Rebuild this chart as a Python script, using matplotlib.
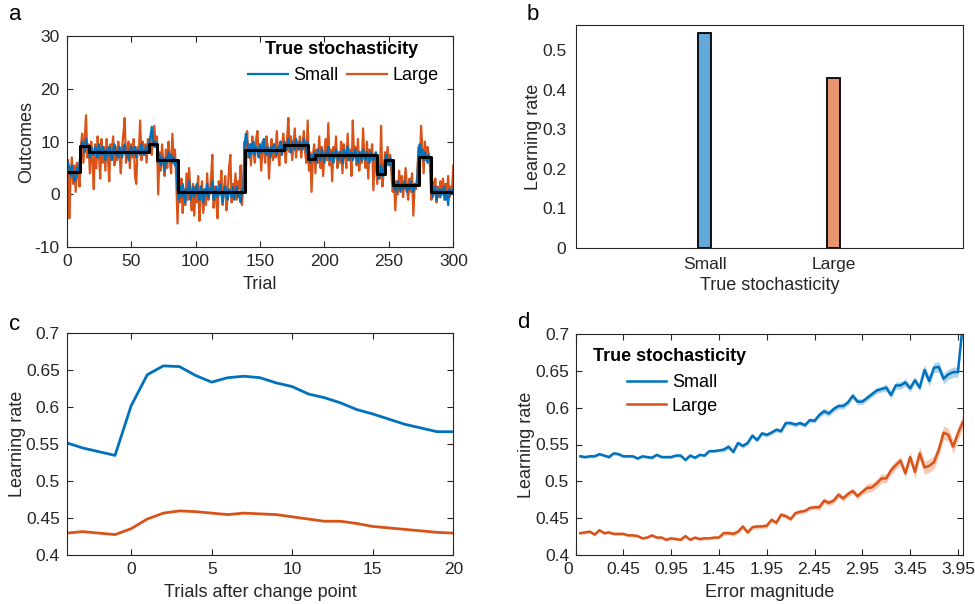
import numpy as np
import matplotlib
matplotlib.use("Agg")
import matplotlib.pyplot as plt
import matplotlib.transforms as mtransforms
from matplotlib.ticker import FuncFormatter

plt.rcParams['font.family'] = ['Liberation Sans', 'DejaVu Sans']
plt.rcParams['axes.unicode_minus'] = False

# colours (MATLAB defaults)
BLUE = '#0072BD'
ORANGE = '#D95319'
DARK = '#262626'

# ---- panel a: outcomes per trial ----
outcomes_small = [
    6.0, 5.0, 3.5, 5.5, 4.0, 2.5, 3.0, 5.0, 4.5, 6.0,
    8.5, 10.0, 9.5, 8.0, 10.5, 9.0, 8.5, 7.0, 9.0, 8.0,
    7.5, 9.0, 8.5, 7.0, 9.5, 8.0, 7.5, 9.0, 8.0, 6.5,
    8.5, 7.5, 9.0, 8.0, 6.5, 8.5, 9.5, 7.5, 8.0, 7.0,
    9.0, 8.0, 7.0, 8.5, 9.5, 7.5, 8.0, 6.5, 8.5, 9.0,
    7.5, 8.0, 9.0, 7.0, 8.5, 8.0, 7.5, 9.5, 8.0, 7.5,
    8.5, 9.0, 8.0, 10.0, 11.0, 12.8, 10.5, 9.0, 10.0, 9.5,
    6.0, 7.5, 5.5, 7.0, 6.5, 4.5, 7.0, 6.0, 8.0, 6.5,
    7.5, 6.0, 7.0, 5.5, 6.5, 1.0, -1.0, 1.5, -0.5, 2.0,
    0.0, -1.5, 1.0, 0.5, 2.5, -1.0, 0.0, 1.5, -0.5, 1.0,
    2.0, 0.0, -1.0, 1.5, 0.5, -1.5, 1.0, 0.0, 2.0, -0.5,
    1.0, 0.5, 2.5, -1.0, 0.0, 1.5, -0.5, 1.0, 2.0, 0.0,
    -1.5, 0.5, 1.5, 0.0, -1.0, 1.0, 0.5, -0.5, 1.5, -1.0,
    0.5, 1.5, -0.5, 0.0, -1.5, 1.0, 0.5, 9.0, 11.5, 10.0,
    8.5, 7.0, 9.5, 8.0, 10.0, 7.5, 9.0, 8.5, 7.0, 9.5,
    8.0, 9.0, 10.5, 8.0, 7.5, 9.0, 8.5, 7.0, 9.0, 8.0,
    9.5, 8.0, 7.5, 9.0, 8.5, 10.0, 7.5, 9.0, 10.0, 9.5,
    8.5, 10.5, 9.0, 8.0, 10.0, 9.5, 8.5, 10.5, 9.0, 8.5,
    10.0, 9.0, 8.5, 10.5, 9.5, 8.0, 10.0, 7.0, 6.0, 7.5,
    6.5, 8.0, 7.5, 6.0, 8.5, 7.0, 6.5, 8.5, 7.5, 6.0,
    8.0, 7.5, 9.0, 6.5, 7.5, 8.0, 6.0, 7.5, 8.5, 7.0,
    6.5, 8.0, 7.5, 6.0, 8.5, 7.0, 7.5, 9.0, 6.5, 7.5,
    8.0, 6.5, 7.5, 8.5, 7.0, 6.0, 8.0, 7.5, 6.5, 8.5,
    7.0, 6.5, 8.0, 7.5, 6.0, 8.0, 7.0, 6.5, 7.5, 8.0,
    4.5, 3.0, 4.0, 5.5, 3.5, 4.5, 6.5, 7.5, 6.0, 5.5,
    7.0, 6.0, 2.5, 1.0, 2.0, 0.5, 2.5, 1.5, 0.5, 2.0,
    1.0, 2.5, 1.5, 0.5, 2.0, 1.0, 2.5, 1.5, 0.5, 2.0,
    1.5, 2.5, 8.0, 9.5, 7.0, 8.5, 6.5, 8.0, 7.0, 6.0,
    7.5, 6.5, 1.0, -0.5, 0.5, 1.5, -1.0, 0.5, 1.0, -0.5,
    1.0, 0.0, 1.5, -1.0, 0.5, -2.0, 1.0, 0.0, 0.5, 1.0,
]
outcomes_large = [
    6.5, -4.5, 3.0, 7.0, 2.0, 5.5, 0.5, 6.0, 3.5, 1.5,
    9.0, 11.5, 6.0, 10.5, 15.0, 7.0, 9.5, 4.0, 10.0, 6.5,
    1.0, 9.5, 5.0, 11.0, 7.5, 3.0, 10.5, 6.0, 9.0, 4.5,
    10.5, 7.0, 2.5, 9.5, 8.0, 11.0, 5.5, 9.0, 6.5, 10.0,
    7.5, 4.0, 9.0, 11.5, 14.5, 6.0, 8.5, 10.0, 5.0, 9.5,
    7.0, 10.5, 3.5, 2.0, 9.0, 8.0, 14.0, 6.5, 10.0, 7.5,
    9.5, 6.0, 10.5, 8.0, 11.0, 7.5, 12.5, 13.0, 9.0, 11.0,
    0.0, 8.0, 4.5, 9.5, 6.0, 3.5, 8.5, 5.0, 10.0, 6.5,
    4.0, 11.5, 6.0, 8.5, 3.0, -5.5, 2.5, -1.5, 3.0, -3.5,
    1.0, -2.0, 4.0, -1.0, 5.0, 0.5, -3.0, 2.0, -4.0, 1.5,
    -1.5, 3.5, -5.0, 0.0, 2.5, -3.5, 1.0, -2.0, 4.0, -1.0,
    0.5, 3.0, 7.5, -2.5, 1.5, -1.0, -4.5, 2.5, 0.0, 4.5,
    -2.0, 1.0, 3.5, -3.0, 0.5, 5.0, 7.5, -1.5, 2.0, 0.0,
    4.0, -1.0, 2.5, 1.0, 5.5, -2.0, 1.5, 10.0, 4.5, 12.0,
    7.0, 9.5, 5.5, 11.0, 8.0, 6.0, 10.5, 12.0, 7.5, 9.0,
    4.5, 10.0, 8.5, 6.0, 11.0, 9.0, 3.0, 8.0, 10.5, 6.5,
    9.5, 7.0, 12.0, 8.0, 5.5, 10.0, 7.5, 11.5, 9.0, 6.0,
    10.5, 14.5, 8.0, 11.0, 6.5, 9.5, 12.5, 7.0, 10.0, 8.5,
    11.0, 7.0, 9.5, 12.0, 8.0, 6.0, 14.0, 4.5, 8.0, 0.5,
    7.0, 9.5, 4.0, 8.5, 6.0, 11.0, 5.0, 9.0, 3.5, 8.0,
    10.5, 6.5, 13.5, 5.5, 8.5, 2.5, 9.0, 7.0, 11.0, 5.0,
    8.0, 6.0, 10.0, 4.0, 9.5, 7.5, 5.0, 11.5, 6.5, 8.5,
    3.5, 14.0, 7.0, 9.0, 5.5, 10.5, 4.5, 8.0, 6.0, 12.5,
    7.0, 5.0, 10.0, 3.0, 8.5, 6.5, 9.5, 0.8, 7.5, 5.5,
    2.0, 5.5, 3.0, 13.0, 1.5, 4.5, 8.0, 5.5, 9.0, 6.0,
    7.5, 4.0, 0.5, 3.0, -3.0, 2.5, 0.0, 4.5, 1.0, 3.5,
    -0.5, 2.0, 5.0, 1.5, -1.0, 3.0, 0.5, 4.0, -4.0, 2.0,
    1.0, 3.5, 9.0, 5.0, 13.0, 8.5, 4.0, 10.0, 6.5, 9.0,
    7.5, 5.0, -1.0, 2.5, 0.0, 3.0, -1.5, 1.5, -0.5, 2.5,
    0.5, 3.0, -1.0, 2.0, 0.0, 3.5, -0.5, 1.5, 0.5, 5.5,
]
# true mean: change-point trials and the level after each
cp_trials = [0, 10, 17, 64, 70, 86, 138, 169, 187, 193, 241, 247, 253, 273, 283, 300]
cp_levels = [4.2, 9.2, 8.0, 9.6, 6.6, 0.4, 8.5, 9.3, 6.8, 7.4, 3.9, 6.5, 1.7, 7.1, 0.4]

# ---- panel b: mean learning rate ----
stoch_labels = ['Small', 'Large']
lr_mean = [0.544, 0.428]
bar_colors = ['#62A8D8', '#E8956F']

# ---- panel c: learning rate around change points ----
cp_rel_trials = list(range(-4, 21))
lr_cp_small = [0.552, 0.545, 0.540, 0.535, 0.602, 0.644, 0.656, 0.655, 0.643, 0.634,
               0.640, 0.642, 0.640, 0.633, 0.628, 0.618, 0.613, 0.606, 0.597, 0.591,
               0.584, 0.577, 0.572, 0.567, 0.567]
lr_cp_large = [0.430, 0.432, 0.430, 0.428, 0.436, 0.449, 0.457, 0.460, 0.459, 0.457,
               0.455, 0.457, 0.456, 0.455, 0.452, 0.449, 0.446, 0.446, 0.443, 0.439,
               0.437, 0.435, 0.433, 0.431, 0.430]

# ---- panel d: learning rate vs error magnitude ----
err_mag = np.round(np.arange(81) * 0.05, 2)
lr_err_small = [
    0.534, 0.533, 0.534, 0.534, 0.537, 0.535, 0.533, 0.538, 0.537, 0.534,
    0.534, 0.534, 0.531, 0.534, 0.533, 0.532, 0.536, 0.533, 0.533, 0.533,
    0.535, 0.535, 0.529, 0.535, 0.532, 0.536, 0.535, 0.541, 0.541, 0.542,
    0.543, 0.547, 0.540, 0.552, 0.548, 0.552, 0.562, 0.556, 0.565, 0.563,
    0.566, 0.570, 0.568, 0.579, 0.579, 0.577, 0.579, 0.576, 0.583, 0.582,
    0.590, 0.595, 0.592, 0.598, 0.602, 0.602, 0.607, 0.616, 0.608, 0.608,
    0.613, 0.618, 0.623, 0.625, 0.627, 0.617, 0.630, 0.630, 0.634, 0.626,
    0.637, 0.627, 0.651, 0.636, 0.654, 0.655, 0.639, 0.645, 0.648, 0.648,
    0.712,
]
lr_err_large = [
    0.430, 0.431, 0.432, 0.428, 0.434, 0.430, 0.431, 0.429, 0.429, 0.429,
    0.427, 0.427, 0.426, 0.423, 0.424, 0.427, 0.424, 0.424, 0.421, 0.423,
    0.422, 0.421, 0.426, 0.421, 0.424, 0.422, 0.423, 0.423, 0.424, 0.424,
    0.430, 0.430, 0.429, 0.432, 0.439, 0.431, 0.438, 0.439, 0.439, 0.440,
    0.448, 0.444, 0.455, 0.453, 0.449, 0.457, 0.459, 0.460, 0.464, 0.465,
    0.465, 0.474, 0.471, 0.474, 0.482, 0.477, 0.483, 0.487, 0.480, 0.486,
    0.491, 0.492, 0.497, 0.504, 0.504, 0.515, 0.522, 0.528, 0.511, 0.533,
    0.513, 0.538, 0.519, 0.521, 0.526, 0.543, 0.566, 0.563, 0.547, 0.565,
    0.580,
]
sem_err_small = [
    0.002, 0.002, 0.002, 0.002, 0.002, 0.002, 0.002, 0.002, 0.002, 0.002,
    0.002, 0.002, 0.002, 0.002, 0.002, 0.002, 0.002, 0.002, 0.002, 0.002,
    0.002, 0.002, 0.002, 0.002, 0.002, 0.002, 0.002, 0.002, 0.002, 0.002,
    0.003, 0.003, 0.003, 0.003, 0.003, 0.003, 0.003, 0.003, 0.003, 0.003,
    0.003, 0.003, 0.003, 0.003, 0.003, 0.003, 0.003, 0.003, 0.003, 0.003,
    0.004, 0.004, 0.004, 0.004, 0.004, 0.004, 0.004, 0.004, 0.004, 0.004,
    0.004, 0.004, 0.004, 0.004, 0.005, 0.005, 0.005, 0.005, 0.005, 0.005,
    0.005, 0.005, 0.007, 0.007, 0.007, 0.007, 0.007, 0.007, 0.007, 0.007,
    0.007,
]
sem_err_large = [
    0.002, 0.002, 0.002, 0.002, 0.002, 0.002, 0.002, 0.002, 0.002, 0.002,
    0.002, 0.002, 0.002, 0.002, 0.002, 0.002, 0.002, 0.002, 0.002, 0.002,
    0.002, 0.002, 0.002, 0.002, 0.002, 0.002, 0.002, 0.002, 0.002, 0.002,
    0.003, 0.003, 0.003, 0.003, 0.003, 0.003, 0.003, 0.003, 0.003, 0.003,
    0.003, 0.003, 0.003, 0.003, 0.003, 0.003, 0.003, 0.003, 0.003, 0.003,
    0.004, 0.004, 0.004, 0.004, 0.004, 0.004, 0.004, 0.004, 0.004, 0.004,
    0.006, 0.006, 0.006, 0.006, 0.006, 0.006, 0.006, 0.006, 0.006, 0.006,
    0.009, 0.009, 0.009, 0.009, 0.009, 0.009, 0.009, 0.009, 0.009, 0.009,
    0.009,
]


def g_fmt(v, pos):
    return f"{v:g}"


def matlab_style(ax, ticks=True):
    for s in ax.spines.values():
        s.set_color(DARK)
        s.set_linewidth(0.8)
    if ticks:
        ax.tick_params(direction='in', top=True, right=True, length=4,
                       width=0.8, color=DARK, labelcolor=DARK, labelsize=TS, pad=5)
    else:
        ax.tick_params(length=0, labelcolor=DARK, labelsize=TS)


FS = 13
TS = 12.5
fig = plt.figure(figsize=(9.75, 6.04), dpi=100)
W, H = 975.0, 604.0
ax_a = fig.add_axes([66.7 / W, 1 - 247.3 / H, 386.6 / W, 211.3 / H])
ax_b = fig.add_axes([576 / W, 1 - 247.7 / H, 386.7 / W, 222.4 / H])
ax_c = fig.add_axes([66.7 / W, 1 - 555.3 / H, 386.6 / W, 222.0 / H])
ax_d = fig.add_axes([576 / W, 1 - 555.3 / H, 386.7 / W, 221.6 / H])

# panel a
trials = np.arange(1, len(outcomes_small) + 1)
h_large, = ax_a.plot(trials, outcomes_large, color=ORANGE, lw=1.6, label='Large')
h_small, = ax_a.plot(trials, outcomes_small, color=BLUE, lw=1.6, label='Small')
ax_a.step(cp_trials, cp_levels + [cp_levels[-1]], where='post', color='black', lw=2.2)
ax_a.set_xlim(0, 300)
ax_a.set_ylim(-10, 30)
ax_a.set_xticks(range(0, 301, 50))
ax_a.set_yticks(range(-10, 31, 10))
ax_a.set_xlabel('Trial', fontsize=FS, color=DARK, labelpad=5)
ax_a.set_ylabel('Outcomes', fontsize=FS, color=DARK, labelpad=0)
matlab_style(ax_a)
ax_a.legend(handles=[h_small, h_large], loc='center right', bbox_to_anchor=(0.962, 0.811),
            ncol=2, frameon=False, fontsize=FS, handlelength=2.2, handletextpad=0.3,
            columnspacing=0.5, borderpad=0, borderaxespad=0)
ax_a.text(0.711, 0.938, 'True stochasticity', transform=ax_a.transAxes, ha='center',
          va='center', fontsize=FS, fontweight='bold', color='black')

# panel b
xpos = np.arange(1, len(stoch_labels) + 1)
ax_b.bar(xpos, lr_mean, width=0.1, color=bar_colors, edgecolor='black', linewidth=1.3)
ax_b.set_xlim(0, 3)
ax_b.set_ylim(0, 0.5625)
ax_b.set_xticks(xpos)
ax_b.set_xticklabels(stoch_labels)
ax_b.set_yticks(np.arange(0, 0.51, 0.1))
ax_b.yaxis.set_major_formatter(FuncFormatter(g_fmt))
ax_b.set_xlabel('True stochasticity', fontsize=FS, color=DARK, labelpad=3)
ax_b.set_ylabel('Learning rate', fontsize=FS, color=DARK, labelpad=0)
matlab_style(ax_b, ticks=False)
ax_b.tick_params(axis='x', pad=7)
ax_b.tick_params(axis='y', pad=7)

# panel c
ax_c.plot(cp_rel_trials, lr_cp_small, color=BLUE, lw=2.0)
ax_c.plot(cp_rel_trials, lr_cp_large, color=ORANGE, lw=2.0)
ax_c.set_xlim(-4, 20)
ax_c.set_ylim(0.4, 0.7)
ax_c.set_xticks(range(0, 21, 5))
ax_c.set_yticks(np.arange(0.4, 0.701, 0.05))
ax_c.yaxis.set_major_formatter(FuncFormatter(g_fmt))
ax_c.set_xlabel('Trials after change point', fontsize=FS, color=DARK, labelpad=5)
ax_c.set_ylabel('Learning rate', fontsize=FS, color=DARK, labelpad=0)
matlab_style(ax_c)

# panel d
handles_d = []
for y, sem, col, lab in [(lr_err_small, sem_err_small, BLUE, 'Small'),
                         (lr_err_large, sem_err_large, ORANGE, 'Large')]:
    y = np.array(y)
    sem = np.array(sem)
    ax_d.fill_between(err_mag, y - sem, y + sem, color=col, alpha=0.3, lw=0)
    h, = ax_d.plot(err_mag, y, color=col, lw=1.8, label=lab)
    handles_d.append(h)
ax_d.set_xlim(-0.045, 4.0)
ax_d.set_ylim(0.4, 0.7)
d_ticks = [-0.045, 0.45, 0.95, 1.45, 1.95, 2.45, 2.95, 3.45, 3.95]
ax_d.set_xticks(d_ticks)
ax_d.set_xticklabels(['0', '0.45', '0.95', '1.45', '1.95', '2.45', '2.95', '3.45', '3.95'])
ax_d.set_yticks(np.arange(0.4, 0.701, 0.05))
ax_d.yaxis.set_major_formatter(FuncFormatter(g_fmt))
ax_d.set_xlabel('Error magnitude', fontsize=FS, color=DARK, labelpad=5)
ax_d.set_ylabel('Learning rate', fontsize=FS, color=DARK, labelpad=0)
matlab_style(ax_d)
# the "0" label sits a little left of the axis corner in the original
first_lab = ax_d.xaxis.get_major_ticks()[0].label1
first_lab.set_transform(first_lab.get_transform() +
                        mtransforms.ScaledTranslation(-0.08, 0, fig.dpi_scale_trans))
ax_d.legend(handles=handles_d, loc='center left', bbox_to_anchor=(0.131, 0.725),
            frameon=False, fontsize=FS, handlelength=2.2, handletextpad=0.3,
            labelspacing=0.35, borderpad=0, borderaxespad=0)
ax_d.text(0.043, 0.896, 'True stochasticity', transform=ax_d.transAxes, ha='left',
          va='center', fontsize=FS, fontweight='bold', color='black')

# panel letters
for txt, x, y in [('a', 15, 15), ('b', 533, 15), ('c', 15, 325), ('d', 523, 323)]:
    fig.text(x / W, 1 - y / H, txt, fontsize=16, ha='center', va='center', color='black')

fig.savefig('out.png', dpi=100)
